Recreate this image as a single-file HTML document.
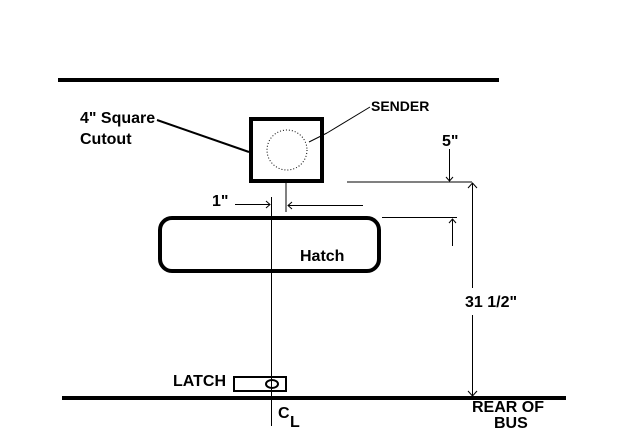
<!DOCTYPE html>
<html><head><style>
html,body{margin:0;padding:0;background:#fff;}
svg{display:block;}
text{font-family:"Liberation Sans",Arial,sans-serif;font-weight:bold;fill:#000;}
</style></head><body>
<svg width="640" height="440" viewBox="0 0 640 440" xmlns="http://www.w3.org/2000/svg">
<rect width="640" height="440" fill="#fff"/>
<line x1="58" y1="80" x2="499" y2="80" stroke="#000" stroke-width="4"/>
<line x1="62" y1="398" x2="566" y2="398" stroke="#000" stroke-width="4"/>
<rect x="251" y="119" width="71" height="62" fill="none" stroke="#000" stroke-width="4"/>
<circle cx="287" cy="150" r="20" fill="none" stroke="#000" stroke-width="1" stroke-dasharray="1,2"/>
<line x1="157" y1="120" x2="249" y2="152" stroke="#000" stroke-width="2"/>
<line x1="309" y1="142" x2="327" y2="133" stroke="#000" stroke-width="1"/>
<line x1="327" y1="133" x2="370" y2="107" stroke="#000" stroke-width="1"/>
<text x="371" y="111" font-size="14">SENDER</text>
<text x="80" y="123" font-size="16">4" Square</text>
<text x="80" y="144" font-size="16">Cutout</text>
<line x1="286" y1="183" x2="286" y2="212" stroke="#000" stroke-width="1"/>
<line x1="271.5" y1="197" x2="271.5" y2="426" stroke="#000" stroke-width="1"/>
<rect x="160" y="218" width="219" height="53" rx="12" fill="none" stroke="#000" stroke-width="4"/>
<text x="300" y="261" font-size="16">Hatch</text>
<text x="212" y="206" font-size="16">1"</text>
<line x1="235" y1="204.5" x2="270" y2="204.5" stroke="#000"/>
<path d="M266 201 L270 204.5 L266 208" fill="none" stroke="#000"/>
<line x1="288" y1="205.5" x2="363" y2="205.5" stroke="#000"/>
<path d="M292 202 L288 205.5 L292 209" fill="none" stroke="#000"/>
<line x1="347" y1="182" x2="472" y2="182" stroke="#000"/>
<text x="442" y="146" font-size="16">5"</text>
<line x1="449.5" y1="149" x2="449.5" y2="181" stroke="#000"/>
<path d="M446 177 L449.5 181 L453 177" fill="none" stroke="#000"/>
<line x1="382" y1="217.5" x2="457" y2="217.5" stroke="#000"/>
<line x1="452.5" y1="219" x2="452.5" y2="246" stroke="#000"/>
<path d="M449 223 L452.5 219 L456 223" fill="none" stroke="#000"/>
<line x1="472.5" y1="183" x2="472.5" y2="288" stroke="#000"/>
<line x1="472.5" y1="315" x2="472.5" y2="396" stroke="#000"/>
<path d="M468 188 L472.5 183 L477 188" fill="none" stroke="#000"/>
<path d="M468 391 L472.5 396 L477 391" fill="none" stroke="#000"/>
<text x="465" y="307" font-size="16">31 1/2"</text>
<rect x="234" y="377" width="52" height="14" fill="none" stroke="#000" stroke-width="2"/>
<ellipse cx="272" cy="384" rx="6" ry="4" fill="none" stroke="#000" stroke-width="2"/>
<text x="173" y="386" font-size="16">LATCH</text>
<text x="278" y="418" font-size="16">C</text>
<text x="290" y="427" font-size="16">L</text>
<text x="472" y="412" font-size="16">REAR OF</text>
<text x="494" y="428" font-size="16">BUS</text>
</svg>
</body></html>
